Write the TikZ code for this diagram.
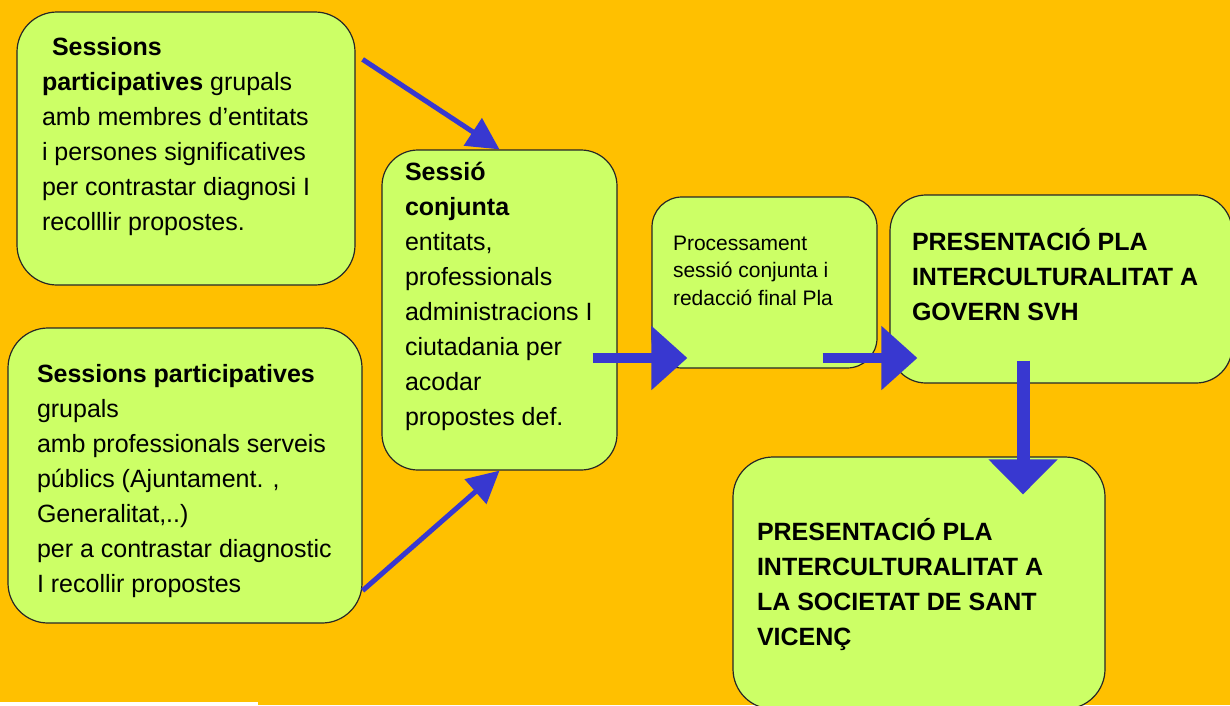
\documentclass[tikz,border=0pt]{standalone}
\usepackage{fontspec}
\setmainfont{Liberation Sans}
\usetikzlibrary{arrows.meta,calc}

\begin{document}
\begin{tikzpicture}[x=1pt,y=-1pt,
  flowbox/.style={draw=black!85, line width=1.2pt, fill=custcol_green, inner sep=0, rounded corners=40pt, font=\fontsize{25pt}{35pt}\selectfont},
  thinarrow/.style={draw=custcol_blue, line width=5pt, -{Triangle[length=32pt,width=32pt]}},
  fatarrow/.style={draw=custcol_blue, line width=10pt, -{Triangle[length=36pt,width=62pt]}}]
\useasboundingbox (0,0) rectangle (1230,705);
\definecolor{custcol_orange}{RGB}{255, 192, 0}
\definecolor{custcol_green}{RGB}{204, 255, 102}
\definecolor{custcol_blue}{RGB}{56, 56, 208}
% width, height, left pad, top pad, text
\def\boxtext#1#2#3#4#5{\parbox[c][#2pt][t]{#1pt}{\raggedright\leftskip=#3pt\relax\vspace*{#4pt}\rule{0pt}{1.05em}#5}}
\fill [custcol_orange] (0,0) rectangle (1230,705);
\fill [white] (0,702) rectangle (258,705);

\node[flowbox] (sessA) at (186,148.5) {\boxtext{338}{273}{25}{17}{\hspace*{10pt}\textbf{Sessions}\\
  \textbf{participatives} grupals\\ amb membres d’entitats\\ i persones significatives\\
  per contrastar diagnosi I\\ recolllir propostes.}};
\node[flowbox] (sessB) at (185,475.5) {\boxtext{354}{295}{29}{28}{\textbf{Sessions participatives}\\
  grupals\\ amb professionals serveis\\ públics (Ajuntament. ,\\ Generalitat,..)\\
  per a contrastar diagnostic\\ I recollir propostes}};
\node[flowbox, rounded corners=36pt] (conj) at (499.5,310) {\boxtext{235}{320}{23}{4}{\textbf{Sessió}\\
  \textbf{conjunta}\\ entitats,\\ professionals\\ administracions I\\ ciutadania per\\ acodar\\ propostes def.}};
\node[flowbox, rounded corners=30pt, font=\fontsize{21pt}{27.5pt}\selectfont] (proc) at (764.5,282.5)
  {\boxtext{225}{171}{21}{31}{Processament\\ sessió conjunta i\\ redacció final Pla}};
\node[flowbox, rounded corners=36pt, font=\fontsize{25pt}{35pt}\selectfont\bfseries] (gov) at (1061,289)
  {\boxtext{342}{188}{22}{29}{PRESENTACIÓ PLA\\ INTERCULTURALITAT A\\ GOVERN SVH}};
\node[flowbox, font=\fontsize{25pt}{35pt}\selectfont\bfseries] (soc) at (919,583)
  {\boxtext{372}{252}{24}{57}{PRESENTACIÓ PLA\\ INTERCULTURALITAT A\\ LA SOCIETAT DE SANT\\ VICENÇ}};

% arrows
\draw[thinarrow] ($(sessA.north east)+(7,48)$) -- (conj.north);
\draw[thinarrow] ($(sessB.south east)+(0,-33)$) -- (conj.south);
\draw[fatarrow] ($(conj.east)+(-25,48)$) -- ($(proc.west)+(36,75.5)$);
\draw[fatarrow] ($(proc.east)+(-55,75.5)$) -- ($(gov.west)+(28,69)$);
\draw[fatarrow, line width=13pt, -{Triangle[length=35pt,width=67pt]}] ($(gov.south)+(-38,-23)$) -- ($(soc.north)+(104,38)$);
\end{tikzpicture}
\end{document}
